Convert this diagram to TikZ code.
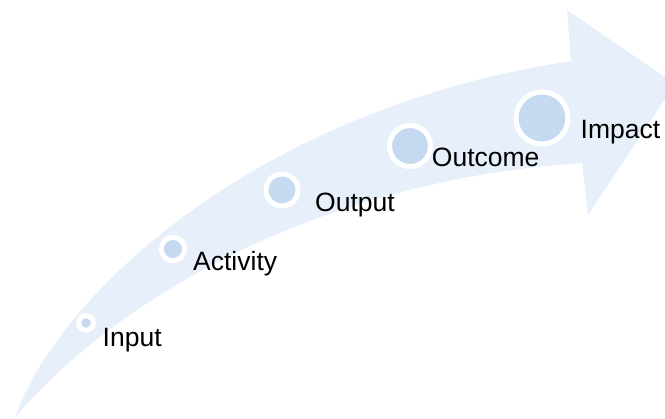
\documentclass[tikz,border=0pt]{standalone}
\usepackage{fontspec}
\setmainfont{Liberation Sans}
\usepackage{tikz}
\usetikzlibrary{positioning}
\definecolor{bandblue}{RGB}{231,240,250}
\definecolor{dotblue}{RGB}{197,218,241}

\begin{document}
\begin{tikzpicture}[x=1pt, y=-1pt,
    dot/.style={circle, draw=white, line width=5pt, fill=dotblue, inner sep=0pt},
    lbl/.style={inner sep=0pt, anchor=base west, font=\fontsize{26.5}{32}\selectfont}]
    \useasboundingbox (0,0) rectangle (665,419);

    % curved arrow
    \fill[bandblue] (15,418) .. controls (55,300) and (250,110) .. (571,61)
        -- (567,10) -- (675,84) -- (588,215) -- (582,163)
        .. controls (282,183) and (88,328) .. cycle;

    \node [dot, minimum size=14.6pt] (input) at (86,323) {};
    \node [dot, minimum size=23.4pt] (activity) at (173,249) {};
    \node [dot, minimum size=32pt] (output) at (282,190) {};
    \node [dot, minimum size=41pt] (outcome) at (410,146) {};
    \node [dot, minimum size=52pt] (impact) at (542,118) {};

    \node [lbl] (inputlbl) at ([shift={(16.5,24)}]input.center) {Input};
    \node [lbl] (activitylbl) at ([shift={(20,22)}]activity.center) {Activity};
    \node [lbl] (outputlbl) at ([shift={(33,22)}]output.center) {Output};
    \node [lbl] (outcomelbl) at ([shift={(21.7,21)}]outcome.center) {Outcome};
    \node [lbl] (impactlbl) at ([shift={(38.5,21)}]impact.center) {Impact};

\end{tikzpicture}
\end{document}
